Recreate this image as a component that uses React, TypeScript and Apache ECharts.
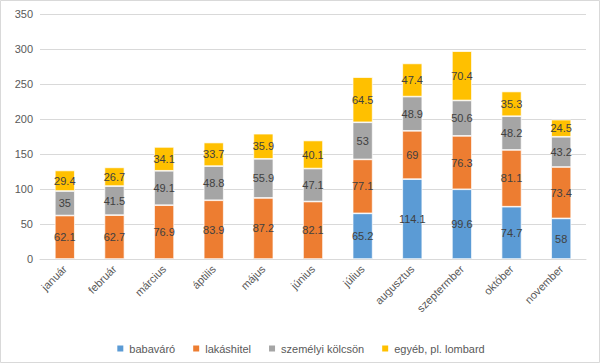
import React, { useEffect, useRef } from "react";
import * as echarts from "echarts";

const categories = ["január", "február", "március", "áptilis", "május", "június", "július", "augusztus", "szeptermber", "október", "november"];
const seriesNames = ["babaváró", "lakáshitel", "személyi kölcsön", "egyéb, pl. lombard"];
const babavaro = [null, null, null, null, null, null, 65.2, 114.1, 99.6, 74.7, 58];
const lakashitel = [62.1, 62.7, 76.9, 83.9, 87.2, 82.1, 77.1, 69, 76.3, 81.1, 73.4];
const szemelyi = [35, 41.5, 49.1, 48.8, 55.9, 47.1, 53, 48.9, 50.6, 48.2, 43.2];
const egyeb = [29.4, 26.7, 34.1, 33.7, 35.9, 40.1, 64.5, 47.4, 70.4, 35.3, 24.5];
const colors = ["#5B9BD5", "#ED7D31", "#A5A5A5", "#FFC000"];

const FONT = "'Liberation Sans', Arial, sans-serif";

export default function App() {
  const ref = useRef<HTMLDivElement>(null);
  useEffect(() => {
    document.body.style.margin = "0";
    const chart = echarts.init(ref.current!, undefined, { renderer: "svg" });
    const data = [babavaro, lakashitel, szemelyi, egyeb];
    chart.setOption({
      animation: false,
      backgroundColor: "#ffffff",
      textStyle: { fontFamily: FONT },
      color: colors,
      grid: { left: 40, right: 14, top: 14, bottom: 104, containLabel: false },
      legend: {
        data: seriesNames,
        top: 338,
        left: "center",
        itemWidth: 8,
        itemHeight: 8,
        itemGap: 16,
        icon: "rect",
        textStyle: { color: "#595959", fontSize: 11, fontFamily: FONT },
      },
      xAxis: {
        type: "category",
        data: categories,
        axisLine: { lineStyle: { color: "#d9d9d9" } },
        axisTick: { show: false },
        axisLabel: { rotate: 45, color: "#595959", fontSize: 11, fontFamily: FONT, margin: 8, interval: 0 },
      },
      yAxis: {
        type: "value",
        min: 0,
        max: 350,
        interval: 50,
        axisLine: { show: false },
        axisTick: { show: false },
        splitLine: { lineStyle: { color: "#d9d9d9" } },
        axisLabel: { color: "#595959", fontSize: 11, fontFamily: FONT, margin: 7 },
      },
      graphic: [
        {
          type: "rect",
          shape: { x: 0.5, y: 0.5, width: 599, height: 362 },
          style: { fill: "none", stroke: "#d9d9d9", lineWidth: 1 },
          silent: true,
        },
      ],
      series: seriesNames.map((name, i) => ({
        name,
        type: "bar",
        stack: "total",
        barWidth: 20,
        data: data[i],
        itemStyle: { color: colors[i], borderColor: "#ffffff", borderWidth: 0.7 },
        label: {
          show: true,
          position: "inside",
          color: "#404040",
          fontSize: 11,
          fontFamily: FONT,
        },
      })),
    });
    return () => chart.dispose();
  }, []);
  return <div ref={ref} style={{ width: 600, height: 363 }} />;
}
